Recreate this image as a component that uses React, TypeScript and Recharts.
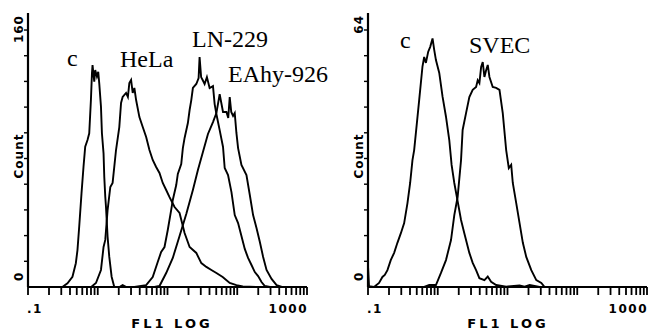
import React from 'react';
import { LineChart, Line, XAxis, YAxis } from 'recharts';

// ---- axis tick values / labels ----
const xTicks = [0.1, 0.2, 0.3, 0.4, 0.5, 0.6, 0.7, 0.8, 0.9, 1, 2, 3, 4, 5, 6, 7, 8, 9, 10, 20, 30, 40, 50, 60, 70, 80, 90, 100, 200, 300, 400, 500, 600, 700, 800, 900, 1000];
const xLabelValues = [0.1, 1000];
const xLabelTexts = ['.1', '1000'];
const xTitle = 'FL1 LOG';
const yTitle = 'Count';

const yTicksLeft = [0, 16, 32, 48, 64, 80, 96, 112, 128, 144, 160];
const yLabelsLeft = ['0', '160'];
const yTicksRight = [0, 6.4, 12.8, 19.2, 25.6, 32, 38.4, 44.8, 51.2, 57.6, 64];
const yLabelsRight = ['0', '64'];

// ---- series: [FL1 intensity, count] ----
const leftControl = [
  [0.311, 0], [0.368, 2.3], [0.434, 6.4], [0.485, 14.8], [0.512, 23], [0.542, 37.5], [0.585, 58.3], [0.625, 74.9],
  [0.661, 87.4], [0.713, 91.5], [0.755, 95.7], [0.798, 116.4], [0.826, 133], [0.842, 138.2], [0.891, 127.8],
  [0.92, 135.1], [0.973, 131], [1.016, 134], [1.051, 126.8], [1.112, 112.3], [1.148, 95.7], [1.211, 83.2],
  [1.24, 68.7], [1.282, 56.2], [1.312, 50], [1.384, 31.3], [1.462, 18.9], [1.581, 6.4], [1.726, 0],
];
const hela = [
  [0.805, 0], [0.942, 2.5], [1.112, 10.6], [1.211, 24.9], [1.282, 29.3], [1.384, 47.9], [1.514, 62.3], [1.633, 64.8],
  [1.828, 85.3], [2.037, 99.6], [2.158, 114.6], [2.275, 118.3], [2.547, 120.8], [2.704, 118.3], [2.838, 127],
  [3.006, 128.9], [3.17, 120.8], [3.35, 123.9], [3.548, 116.4], [3.954, 105.8], [4.416, 99.6], [4.943, 93.4],
  [5.508, 85.3], [6.138, 79.1], [6.871, 74.7], [7.674, 71], [8.551, 64.8], [9.572, 60.4], [10.69, 56],
  [12.62, 49.8], [14.89, 46.1], [17.58, 33.6], [20.75, 24.9], [25.88, 21.2], [30.55, 14.9], [36.06, 12.5],
  [42.56, 10.6], [50.23, 8.7], [61.8, 6.2], [77.98, 2.5], [97.3, 1.2], [119.9, 0.3], [210.9, 0],
];
const ln229 = [
  [2.05, 0], [2.275, 1.2], [2.57, 0], [3.35, 0], [4.943, 1.2], [6.138, 6.2], [7.244, 15.6], [8.11, 21.8],
  [9.057, 24.9], [10.09, 35.5], [11.3, 48], [11.91, 54.2], [13.34, 63.5], [14.06, 70.4], [15.74, 76.6],
  [16.6, 86.5], [17.58, 92.8], [19.59, 102.1], [20.75, 110.2], [21.93, 116.4], [23.12, 123.9], [25.88, 126.4],
  [27.93, 130.1], [28.84, 143.2], [30.34, 130.7], [31.92, 128.9], [34.04, 126.4], [36.73, 130.7], [40.18, 123.9],
  [44.87, 125.1], [47.42, 113.9], [50.23, 107.7], [52.97, 102.7], [55.98, 97.7], [62.52, 87.2], [66.07, 74.1],
  [73.79, 69.7], [82.6, 59.1], [92.04, 44.8], [102.8, 39.8], [114.8, 31.8], [128.2, 23.7], [142.9, 18.1],
  [160, 13.7], [178.6, 9.3], [199.1, 6.8], [222.8, 3.1], [248.9, 0.6], [293.8, 0],
];
const eahy926 = [
  [6.501, 0], [7.674, 0.6], [9.572, 8.7], [11.91, 18.1], [14.89, 31.8], [18.58, 45.4], [23.12, 60.4],
  [27.29, 72.8], [32.21, 84.1], [38.02, 95.3], [44.87, 102.7], [50.23, 108.3], [55.98, 120], [62.52, 109],
  [69.98, 109], [74.3, 105.2], [77.98, 118.3], [82.04, 109], [87.1, 106.5], [92.04, 108.3], [97.27, 95.9],
  [102.8, 86.5], [114.8, 76], [135.5, 69.7], [151.4, 57.3], [168.7, 44.8], [188.8, 36.7], [210.9, 28],
  [235, 18.7], [263, 10.6], [310.5, 5], [366.4, 1.2], [436.5, 0],
];
const rightControl = [
  [0.1, 5.2], [0.1034, 0.2], [0.122, 0], [0.144, 1], [0.161, 2.5], [0.174, 3], [0.19, 4.2], [0.212, 6.7],
  [0.237, 8.5], [0.264, 11], [0.296, 13.4], [0.33, 15.9], [0.368, 20.9], [0.402, 25.9], [0.434, 31.6],
  [0.459, 34.1], [0.502, 40.8], [0.542, 46.6], [0.604, 54.9], [0.639, 57.3], [0.676, 55.8], [0.73, 58.6],
  [0.78, 59.8], [0.842, 61.9], [0.891, 59], [0.942, 56.5], [1.051, 53.3], [1.172, 47.4], [1.312, 42.4],
  [1.463, 36.6], [1.58, 30.4], [1.727, 25.9], [1.927, 21.4], [2.157, 16.7], [2.404, 13.4], [2.838, 8.5],
  [3.17, 6], [3.546, 4.2], [3.954, 2.2], [4.667, 1.7], [5.211, 2.6], [5.823, 1.3], [6.871, 0.5], [9.574, 0.1],
  [14.89, 0.4], [17.58, 0.1], [20.74, 0.5], [28.84, 0],
];
const svec = [
  [0.639, 0], [0.755, 0.5], [0.942, 0.5], [1.112, 3.5], [1.312, 6.7], [1.549, 11.7], [1.727, 17.9], [1.927, 22.4],
  [2.157, 31.6], [2.274, 39.1], [2.545, 43.3], [2.838, 47.3], [3.17, 49.1], [3.546, 49.8], [3.74, 51.5],
  [3.954, 50.8], [4.188, 54.8], [4.415, 56], [4.667, 52.3], [4.939, 54], [5.211, 55.3], [5.508, 52.3],
  [6.138, 49.8], [6.871, 49.6], [7.674, 49.1], [8.551, 43.3], [9.572, 34.1], [10.44, 29.6], [11.3, 30.4],
  [11.91, 25.9], [13.34, 20.9], [14.89, 15.9], [16.6, 11], [18.57, 7.5], [21.93, 4.2], [25.88, 1.7],
  [30.55, 1], [34.04, 0],
];

const leftNames = ['c', 'HeLa', 'LN-229', 'EAhy-926'];
const rightNames = ['c', 'SVEC'];

const toPts = (arr: number[][]) => arr.map(([x, y]) => ({ x, y }));

const SANS = "'DejaVu Sans', Arial, sans-serif";
const SERIF = "'Liberation Serif', 'Times New Roman', serif";
const INK = '#000';

type NameLabel = { text: string; x: number; y: number };

type PanelProps = {
  left: number;
  width: number;
  plotLeft: number;
  plotRight: number;
  yMax: number;
  yTicks: number[];
  yLabels: string[];
  series: number[][][];
  names: NameLabel[];
  titleX: number;
};

const AXIS_Y = 287;
const FRAME_TOP = 13;
const H = 331;
const X_AXIS_H = 30;
const Y_AXIS_W = 10;
const X_TICK_PX = 8;
const Y_TICK_PX = 3;

function Panel(p: PanelProps) {
  const xTick = (t: any) => {
    const i = xLabelValues.indexOf(t.payload.value);
    const first = i === 0;
    return (
      <g>
        <rect x={t.x - 0.9} y={t.y} width={1.8} height={X_TICK_PX} fill={INK} />
        {i >= 0 && (
          <text
            x={first ? t.x - 1 : t.x + 1}
            y={t.y + 26}
            textAnchor={first ? 'start' : 'end'}
            fontFamily={SANS}
            fontWeight="bold"
            fontSize={12}
            letterSpacing={1.5}
            fill={INK}
          >
            {xLabelTexts[i]}
          </text>
        )}
      </g>
    );
  };
  const yTick = (t: any) => {
    const v = t.payload.value;
    const isBottom = v === p.yTicks[0];
    const isTop = v === p.yTicks[p.yTicks.length - 1];
    const bx = t.x - 5;
    const by = isBottom ? t.y - 6 : t.y - 15;
    return (
      <g>
        {!isBottom && <rect x={t.x - Y_TICK_PX - 1} y={t.y - 0.7} width={Y_TICK_PX + 1} height={1.4} fill={INK} />}
        {(isBottom || isTop) && (
          <text
            x={bx}
            y={by}
            transform={`rotate(-90 ${bx} ${by})`}
            textAnchor={isBottom ? 'start' : 'end'}
            fontFamily={SANS}
            fontWeight="bold"
            fontSize={12}
            letterSpacing={1}
            fill={INK}
          >
            {isBottom ? p.yLabels[0] : p.yLabels[1]}
          </text>
        )}
      </g>
    );
  };
  const countX = p.plotLeft - 5;
  const countY = 156;
  return (
    <div style={{ position: 'absolute', left: p.left, top: 0 }}>
      <LineChart
        width={p.width}
        height={H}
        margin={{ top: FRAME_TOP, left: p.plotLeft - Y_AXIS_W, right: p.width - p.plotRight, bottom: H - AXIS_Y - X_AXIS_H }}
      >
        <XAxis
          xAxisId="main"
          dataKey="x"
          type="number"
          scale="log"
          domain={[0.1, 1000]}
          allowDataOverflow
          ticks={xTicks}
          interval={0}
          height={X_AXIS_H}
          tickSize={0}
          tickMargin={0}
          tickLine={false}
          axisLine={{ stroke: INK, strokeWidth: 2.2 }}
          tick={xTick}
        />
        <XAxis
          xAxisId="frameTop"
          orientation="top"
          type="number"
          domain={[0, 1]}
          height={0}
          tick={false}
          tickLine={false}
          axisLine={{ stroke: INK, strokeWidth: 2.2 }}
        />
        <YAxis
          yAxisId="main"
          type="number"
          domain={[0, p.yMax]}
          allowDataOverflow
          ticks={p.yTicks}
          interval={0}
          width={Y_AXIS_W}
          tickSize={0}
          tickMargin={0}
          tickLine={false}
          axisLine={{ stroke: INK, strokeWidth: 2.2 }}
          tick={yTick}
        />
        <YAxis
          yAxisId="frameRight"
          orientation="right"
          type="number"
          domain={[0, 1]}
          width={0}
          tick={false}
          tickLine={false}
          axisLine={{ stroke: INK, strokeWidth: 2 }}
        />
        {p.series.map((s, i) => (
          <Line
            key={i}
            xAxisId="main"
            yAxisId="main"
            data={toPts(s)}
            dataKey="y"
            type="linear"
            stroke={INK}
            strokeWidth={1.9}
            dot={false}
            activeDot={false}
            isAnimationActive={false}
          />
        ))}
        <text
          x={countX}
          y={countY}
          transform={`rotate(-90 ${countX} ${countY})`}
          textAnchor="middle"
          fontFamily={SANS}
          fontWeight="bold"
          fontSize={12}
          letterSpacing={1}
          fill={INK}
        >
          {yTitle}
        </text>
        <text
          x={p.titleX}
          y={328}
          textAnchor="middle"
          fontFamily={SANS}
          fontWeight="bold"
          fontSize={13}
          letterSpacing={3}
          fill={INK}
        >
          {xTitle}
        </text>
        {p.names.map((n, i) => (
          <text key={i} x={n.x} y={n.y} fontFamily={SERIF} fontSize={24} fill={INK}>
            {n.text}
          </text>
        ))}
      </LineChart>
    </div>
  );
}

export default function App() {
  return (
    <div style={{ position: 'absolute', left: 0, top: 0, width: 648, height: 331, background: '#fff', overflow: 'hidden' }}>
      <Panel
        left={0}
        width={345}
        plotLeft={28}
        plotRight={307}
        yMax={170.6}
        yTicks={yTicksLeft}
        yLabels={yLabelsLeft}
        series={[leftControl, hela, ln229, eahy926]}
        names={[
          { text: leftNames[0], x: 67, y: 66 },
          { text: leftNames[1], x: 120, y: 67 },
          { text: leftNames[2], x: 192, y: 47 },
          { text: leftNames[3], x: 228, y: 82 },
        ]}
        titleX={172}
      />
      <Panel
        left={330}
        width={318}
        plotLeft={38}
        plotRight={317}
        yMax={68.23}
        yTicks={yTicksRight}
        yLabels={yLabelsRight}
        series={[rightControl, svec]}
        names={[
          { text: rightNames[0], x: 70, y: 48 },
          { text: rightNames[1], x: 139, y: 53 },
        ]}
        titleX={178}
      />
    </div>
  );
}
